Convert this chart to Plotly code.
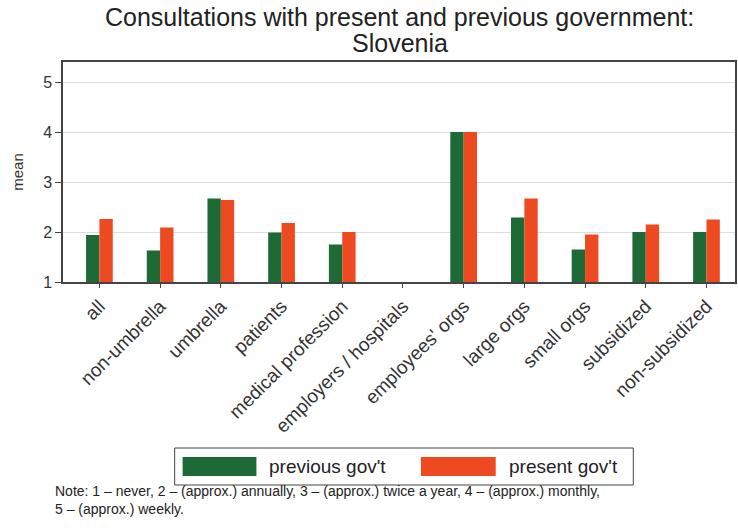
import plotly.graph_objects as go

categories = ["all", "non-umbrella", "umbrella", "patients", "medical profession",
              "employers / hospitals", "employees' orgs", "large orgs", "small orgs",
              "subsidized", "non-subsidized"]
previous_gov = [1.94, 1.63, 2.67, 1.99, 1.75, None, 4.0, 2.29, 1.65, 2.0, 2.0]
present_gov = [2.26, 2.09, 2.64, 2.18, 2.0, None, 4.0, 2.67, 1.95, 2.15, 2.25]
series_names = ["previous gov't", "present gov't"]
colors = ["#1d6a37", "#ee4a22"]
y_ticks = [1, 2, 3, 4, 5]
title_lines = ["Consultations with present and previous government:", "Slovenia"]
note_lines = ["Note: 1 \u2013 never, 2 \u2013 (approx.) annually, 3 \u2013 (approx.) twice a year, 4 \u2013 (approx.) monthly,",
              "5 \u2013 (approx.) weekly."]

FONT = "Liberation Sans, Arial, sans-serif"
W, H = 738, 529
ML, MR, MT, MB = 63, 1, 62, 247

fig = go.Figure()
for name, vals, col in zip(series_names, [previous_gov, present_gov], colors):
    fig.add_trace(go.Bar(x=list(range(len(categories))), y=vals, name=name,
                         marker=dict(color=col, line=dict(width=0))))

fig.update_layout(
    width=W, height=H,
    margin=dict(l=ML, r=MR, t=MT, b=MB),
    paper_bgcolor="white", plot_bgcolor="white",
    barmode="group", bargap=0.56, bargroupgap=0,
    showlegend=False,
    font=dict(family=FONT, color="#222"),
)
fig.update_xaxes(
    range=[-0.6, 10.47], tickmode="array", tickvals=list(range(len(categories))),
    ticktext=categories, tickangle=-45, tickfont=dict(size=19, family=FONT, color="#333"),
    showline=True, linecolor="#444", linewidth=1.5, mirror=True,
    ticks="outside", ticklen=4, tickcolor="#444", showgrid=False,
)
fig.update_yaxes(
    range=[1, 5.4], tickvals=y_ticks, tickfont=dict(size=16, family=FONT, color="#333"),
    showline=True, linecolor="#444", linewidth=1.5, mirror=True,
    ticks="outside", ticklen=6, tickcolor="#444",
    showgrid=True, gridcolor="#dcdcdc", gridwidth=1, zeroline=False,
    title=dict(text="mean", font=dict(size=15, family=FONT, color="#333"), standoff=16),
)

def px_x(px):
    return (px - ML) / (W - ML - MR)

def px_y(py):
    return (H - MB - py) / (H - MT - MB)

# title (two lines, tight spacing)
for text, yc in zip(title_lines, [17, 43]):
    fig.add_annotation(xref="paper", yref="paper", x=px_x(401), y=px_y(yc),
                       xanchor="center", yanchor="middle", showarrow=False, text=text,
                       font=dict(size=25, family=FONT, color="#222"))

# custom legend box
fig.add_shape(type="rect", xref="paper", yref="paper",
              x0=px_x(175), x1=px_x(635), y0=px_y(485), y1=px_y(448),
              line=dict(color="#444", width=1), fillcolor="white")
for x0, x1, i in [(183, 257, 0), (422, 497, 1)]:
    fig.add_shape(type="rect", xref="paper", yref="paper",
                  x0=px_x(x0), x1=px_x(x1), y0=px_y(476), y1=px_y(457),
                  line=dict(width=0), fillcolor=colors[i])
    fig.add_annotation(xref="paper", yref="paper", x=px_x(x1 + 11), y=px_y(466.5),
                       text=series_names[i], showarrow=False,
                       xanchor="left", yanchor="middle",
                       font=dict(size=19, family=FONT, color="#222"))

fig.add_annotation(xref="paper", yref="paper", x=px_x(53), y=px_y(500),
                   xanchor="left", yanchor="middle", align="left", showarrow=False,
                   text="<br>".join(note_lines),
                   font=dict(size=14, family=FONT, color="#222"))

fig.write_html("out.html", config={"displayModeBar": False},
               post_script="document.body.style.margin='0';document.body.style.overflow='hidden';")
